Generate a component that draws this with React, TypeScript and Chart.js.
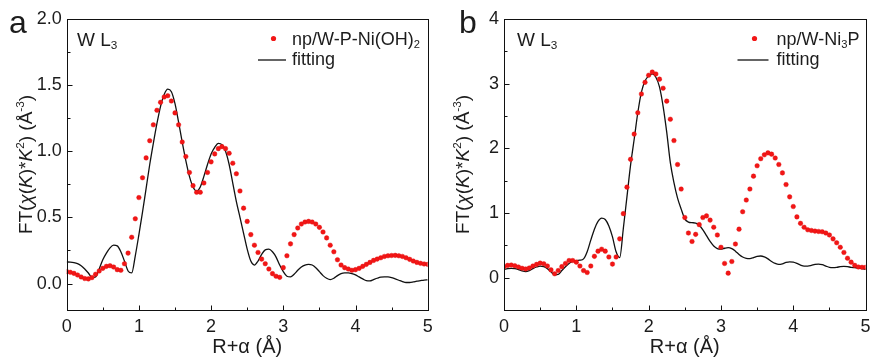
import React, { useEffect, useRef } from 'react';
import { Chart, registerables } from 'chart.js';

Chart.register(...registerables);

const FONT = '"Liberation Sans", Arial, Helvetica, sans-serif';

// R + alpha grid (Å)
const R_GRID = [
  0.0, 0.05, 0.1, 0.15, 0.2, 0.25, 0.3, 0.35, 0.4, 0.45,
  0.5, 0.55, 0.6, 0.65, 0.7, 0.75, 0.8, 0.85, 0.9, 0.95,
  1.0, 1.05, 1.1, 1.15, 1.2, 1.25, 1.3, 1.35, 1.4, 1.45,
  1.5, 1.55, 1.6, 1.65, 1.7, 1.75, 1.8, 1.85, 1.9, 1.95,
  2.0, 2.05, 2.1, 2.15, 2.2, 2.25, 2.3, 2.35, 2.4, 2.45,
  2.5, 2.55, 2.6, 2.65, 2.7, 2.75, 2.8, 2.85, 2.9, 2.95,
  3.0, 3.05, 3.1, 3.15, 3.2, 3.25, 3.3, 3.35, 3.4, 3.45,
  3.5, 3.55, 3.6, 3.65, 3.7, 3.75, 3.8, 3.85, 3.9, 3.95,
  4.0, 4.05, 4.1, 4.15, 4.2, 4.25, 4.3, 4.35, 4.4, 4.45,
  4.5, 4.55, 4.6, 4.65, 4.7, 4.75, 4.8, 4.85, 4.9, 4.95,
  5.0,
];

// Panel a: np/W-P-Ni(OH)2
const A_DATA = [
  0.09, 0.085, 0.077, 0.065, 0.05, 0.038, 0.035, 0.045, 0.07, 0.095,
  0.115, 0.13, 0.135, 0.125, 0.105, 0.1, 0.15, 0.23, 0.35, 0.49,
  0.65, 0.8, 0.95, 1.08, 1.2, 1.31, 1.37, 1.41, 1.42, 1.38,
  1.29, 1.2, 1.07, 0.96, 0.84, 0.74, 0.69, 0.69, 0.76, 0.84,
  0.92, 0.98, 1.02, 1.035, 1.02, 0.985, 0.91, 0.83, 0.7, 0.57,
  0.47, 0.37, 0.29, 0.235, 0.185, 0.15, 0.11, 0.075, 0.055, 0.047,
  0.12, 0.21, 0.3, 0.37, 0.42, 0.45, 0.465, 0.47, 0.465, 0.45,
  0.425, 0.39, 0.345, 0.29, 0.24, 0.18, 0.14, 0.12, 0.11, 0.1,
  0.105, 0.115, 0.13, 0.145, 0.16, 0.175, 0.185, 0.195, 0.205, 0.21,
  0.212, 0.213, 0.21, 0.205, 0.195, 0.183, 0.17, 0.16, 0.153, 0.148,
  0.145,
];
const A_FIT = [
  0.163, 0.162, 0.158, 0.15, 0.135, 0.11, 0.08, 0.045, 0.05, 0.11,
  0.18, 0.23, 0.27, 0.29, 0.285, 0.24, 0.17, 0.095, 0.08, 0.21,
  0.37, 0.54, 0.72, 0.9, 1.06, 1.21, 1.34, 1.43, 1.47, 1.45,
  1.36, 1.22, 1.07, 0.93, 0.81, 0.73, 0.7, 0.73, 0.81, 0.9,
  0.98, 1.03, 1.06, 1.05, 1.0, 0.9, 0.76, 0.62, 0.5, 0.38,
  0.26, 0.17, 0.14, 0.17, 0.22, 0.255, 0.26, 0.24, 0.2, 0.14,
  0.09, 0.055, 0.05, 0.07, 0.1, 0.125, 0.14, 0.145, 0.14, 0.12,
  0.09, 0.06, 0.04, 0.03, 0.04, 0.06, 0.075, 0.08, 0.08, 0.075,
  0.065, 0.05, 0.035, 0.022, 0.02, 0.03, 0.04, 0.048, 0.05, 0.05,
  0.045, 0.035, 0.025, 0.015, 0.008, 0.008, 0.012, 0.018, 0.022, 0.026,
  0.028,
];

// Panel b: np/W-Ni3P
const B_DATA = [
  0.17, 0.19, 0.195, 0.185, 0.165, 0.145, 0.135, 0.15, 0.18, 0.205,
  0.225, 0.215, 0.18, 0.12, 0.06, 0.11, 0.17, 0.22, 0.265, 0.265,
  0.24, 0.18, 0.11, 0.08, 0.18, 0.33, 0.41, 0.44, 0.41, 0.32,
  0.21, 0.32, 0.6, 0.99, 1.4, 1.83, 2.22, 2.55, 2.84, 3.02,
  3.13, 3.18, 3.15, 3.07, 2.93, 2.73, 2.45, 2.12, 1.75, 1.37,
  0.93, 0.69, 0.56, 0.67, 0.82, 0.93, 0.955, 0.89, 0.78, 0.66,
  0.47, 0.22, 0.07, 0.25, 0.52, 0.75, 1.02, 1.2, 1.37, 1.57,
  1.73, 1.84, 1.9, 1.93, 1.91, 1.85, 1.75, 1.62, 1.44, 1.25,
  1.1, 0.94, 0.84, 0.78, 0.74, 0.73, 0.72, 0.715, 0.71, 0.69,
  0.66, 0.6, 0.54, 0.47, 0.39, 0.3, 0.24, 0.19, 0.165, 0.16,
  0.16,
];
const B_FIT = [
  0.13, 0.14, 0.145, 0.14, 0.125, 0.105, 0.095, 0.11, 0.14, 0.165,
  0.18, 0.17, 0.14, 0.09, 0.045, 0.05, 0.11, 0.17, 0.22, 0.25,
  0.265, 0.27, 0.29, 0.4, 0.58, 0.75, 0.87, 0.92, 0.9, 0.8,
  0.63, 0.4, 0.31, 0.76, 1.25, 1.74, 2.14, 2.55, 2.87, 3.04,
  3.12, 3.15, 3.1, 2.95, 2.65, 2.25, 1.78, 1.47, 1.23, 1.06,
  0.91, 0.86, 0.85, 0.845, 0.81, 0.74, 0.65, 0.56, 0.49, 0.45,
  0.44, 0.455, 0.465, 0.45, 0.41, 0.36, 0.32, 0.3, 0.295, 0.31,
  0.33, 0.335, 0.32, 0.29, 0.25, 0.22, 0.205, 0.215, 0.235, 0.245,
  0.24, 0.22, 0.195, 0.18, 0.18, 0.19, 0.205, 0.21, 0.2, 0.18,
  0.16, 0.155, 0.16, 0.17, 0.175, 0.17, 0.16, 0.155, 0.15, 0.14,
  0.13,
];

const X_TICKS = [0, 1, 2, 3, 4, 5];
const X_MINOR = [0.5, 1.5, 2.5, 3.5, 4.5];
const A_Y_TICKS = [0, 0.5, 1, 1.5, 2];
const A_Y_MINOR = [0.25, 0.75, 1.25, 1.75];
const B_Y_TICKS = [0, 1, 2, 3, 4];
const B_Y_MINOR = [0.5, 1.5, 2.5, 3.5];

type Seg = { t: string; s?: 'i' | 'sub' | 'sup' };

const Y_TITLE: Seg[] = [
  { t: 'FT(' }, { t: 'χ', s: 'i' }, { t: '(' }, { t: 'K', s: 'i' }, { t: ')*' },
  { t: 'K', s: 'i' }, { t: '2', s: 'sup' }, { t: ') (Å' }, { t: '-3', s: 'sup' }, { t: ')' },
];
const X_TITLE: Seg[] = [{ t: 'R+α (Å)' }];
const EDGE_LABEL: Seg[] = [{ t: 'W L' }, { t: '3', s: 'sub' }];
const A_LEGEND: Seg[] = [{ t: 'np/W-P-Ni(OH)' }, { t: '2', s: 'sub' }];
const B_LEGEND: Seg[] = [{ t: 'np/W-Ni' }, { t: '3', s: 'sub' }, { t: 'P' }];
const FIT_LEGEND: Seg[] = [{ t: 'fitting' }];

function segFont(seg: Seg, size: number) {
  const sz = seg.s === 'sub' || seg.s === 'sup' ? size * 0.62 : size;
  return `${seg.s === 'i' ? 'italic ' : ''}${sz}px ${FONT}`;
}

function drawRich(ctx: CanvasRenderingContext2D, segs: Seg[], x: number, y: number, size: number, align: 'left' | 'center' = 'left') {
  let total = 0;
  const widths = segs.map((s) => {
    ctx.font = segFont(s, size);
    const w = ctx.measureText(s.t).width;
    total += w;
    return w;
  });
  let cx = align === 'center' ? x - total / 2 : x;
  ctx.textAlign = 'left';
  ctx.textBaseline = 'alphabetic';
  segs.forEach((s, i) => {
    ctx.font = segFont(s, size);
    const dy = s.s === 'sub' ? size * 0.17 : s.s === 'sup' ? -size * 0.4 : 0;
    ctx.fillText(s.t, cx, y + dy);
    cx += widths[i];
  });
}

interface PanelCfg {
  letter: string;
  letterX: number;
  data: number[];
  fit: number[];
  yMin: number;
  yMax: number;
  yTicks: number[];
  yMinor: number[];
  yDecimals: number;
  yWidth: number;
  padRight: number;
  legend: Seg[];
  dotX: number;
  textX: number;
  lineX1: number;
  lineX2: number;
  edgeX: number;
  yTitleX: number;
}

const PANEL_A: PanelCfg = {
  letter: 'a', letterX: 9, data: A_DATA, fit: A_FIT, yMin: -0.2, yMax: 2,
  yTicks: A_Y_TICKS, yMinor: A_Y_MINOR, yDecimals: 1, yWidth: 66.7, padRight: 7.3,
  legend: A_LEGEND, dotX: 273.5, textX: 292, lineX1: 258, lineX2: 286, edgeX: 77, yTitleX: 32,
};
const PANEL_B: PanelCfg = {
  letter: 'b', letterX: 24, data: B_DATA, fit: B_FIT, yMin: -0.5, yMax: 4,
  yTicks: B_Y_TICKS, yMinor: B_Y_MINOR, yDecimals: 0, yWidth: 69, padRight: 4,
  legend: B_LEGEND, dotX: 319.5, textX: 341.5, lineX1: 302.5, lineX2: 333.5, edgeX: 82, yTitleX: 34,
};

const TEXT = '#1c1c1c';
const RED = 'rgb(242,22,22)';

function makeDecor(cfg: PanelCfg) {
  return {
    id: 'decor',
    afterDraw(chart: any) {
      const ctx: CanvasRenderingContext2D = chart.ctx;
      const ca = chart.chartArea;
      const xs = chart.scales.x;
      const ys = chart.scales.y;
      ctx.save();
      // frame
      ctx.strokeStyle = '#111';
      ctx.lineWidth = 1;
      ctx.strokeRect(Math.round(ca.left) + 0.5, Math.round(ca.top) + 0.5, Math.round(ca.right - ca.left), Math.round(ca.bottom - ca.top));
      // inward ticks
      ctx.beginPath();
      const bottom = Math.round(ca.bottom) + 0.5;
      const left = Math.round(ca.left) + 0.5;
      X_TICKS.forEach((v) => {
        const px = Math.round(xs.getPixelForValue(v)) + 0.5;
        ctx.moveTo(px, bottom);
        ctx.lineTo(px, bottom - 5);
      });
      X_MINOR.forEach((v) => {
        const px = Math.round(xs.getPixelForValue(v)) + 0.5;
        ctx.moveTo(px, bottom);
        ctx.lineTo(px, bottom - 3);
      });
      cfg.yTicks.forEach((v) => {
        const py = Math.round(ys.getPixelForValue(v)) + 0.5;
        ctx.moveTo(left, py);
        ctx.lineTo(left + 5, py);
      });
      cfg.yMinor.forEach((v) => {
        const py = Math.round(ys.getPixelForValue(v)) + 0.5;
        ctx.moveTo(left, py);
        ctx.lineTo(left + 3, py);
      });
      ctx.stroke();

      ctx.fillStyle = TEXT;
      // panel letter
      drawRich(ctx, [{ t: cfg.letter }], cfg.letterX, 33, 32);
      // edge label
      drawRich(ctx, EDGE_LABEL, cfg.edgeX, 46, 19);
      // legend
      ctx.fillStyle = RED;
      ctx.beginPath();
      ctx.arc(cfg.dotX, 38.5, 2.6, 0, Math.PI * 2);
      ctx.fill();
      ctx.strokeStyle = '#111';
      ctx.lineWidth = 1.3;
      ctx.beginPath();
      ctx.moveTo(cfg.lineX1, 60);
      ctx.lineTo(cfg.lineX2, 60);
      ctx.stroke();
      ctx.fillStyle = TEXT;
      drawRich(ctx, cfg.legend, cfg.textX, 45, 18);
      drawRich(ctx, FIT_LEGEND, cfg.textX, 65, 18);
      // x title
      drawRich(ctx, X_TITLE, (ca.left + ca.right) / 2, 353, 20, 'center');
      // y title
      ctx.save();
      ctx.translate(cfg.yTitleX, (ca.top + ca.bottom) / 2);
      ctx.rotate(-Math.PI / 2);
      drawRich(ctx, Y_TITLE, 0, 0, 19, 'center');
      ctx.restore();
      ctx.restore();
    },
  };
}

function Panel({ cfg, left }: { cfg: PanelCfg; left: number }) {
  const ref = useRef<HTMLCanvasElement | null>(null);
  useEffect(() => {
    if (!ref.current) return;
    const chart = new Chart(ref.current, {
      type: 'line',
      data: {
        datasets: [
          {
            label: 'data',
            data: R_GRID.map((r, i) => ({ x: r, y: cfg.data[i] })),
            showLine: false,
            pointRadius: 2.3,
            pointBackgroundColor: RED,
            pointBorderColor: 'rgb(225,10,10)',
            pointBorderWidth: 0.4,
          },
          {
            label: 'fitting',
            data: R_GRID.map((r, i) => ({ x: r, y: cfg.fit[i] })),
            borderColor: '#111',
            borderWidth: 1.3,
            pointRadius: 0,
            cubicInterpolationMode: 'monotone',
            fill: false,
          },
        ],
      } as any,
      options: {
        responsive: false,
        animation: false,
        events: [],
        layout: { padding: { left: 0, right: cfg.padRight, top: 19, bottom: 0 } },
        plugins: { legend: { display: false }, tooltip: { enabled: false } },
        scales: {
          x: {
            type: 'linear',
            min: 0,
            max: 5,
            grid: { display: false, drawTicks: false },
            border: { display: false },
            afterBuildTicks: (s: any) => { s.ticks = X_TICKS.map((v) => ({ value: v })); },
            afterFit: (s: any) => { s.height = 51; s.paddingLeft = 0; s.paddingRight = 0; },
            ticks: {
              autoSkip: false,
              maxRotation: 0,
              padding: 6,
              color: TEXT,
              font: { family: FONT, size: 18 },
              callback: (v: any) => String(v),
            },
          },
          y: {
            type: 'linear',
            min: cfg.yMin,
            max: cfg.yMax,
            grid: { display: false, drawTicks: false },
            border: { display: false },
            afterBuildTicks: (s: any) => { s.ticks = cfg.yTicks.map((v) => ({ value: v })); },
            afterFit: (s: any) => { s.width = cfg.yWidth; s.paddingTop = 0; s.paddingBottom = 0; },
            ticks: {
              autoSkip: false,
              padding: 5,
              color: TEXT,
              font: { family: FONT, size: 18 },
              callback: (v: any) => Number(v).toFixed(cfg.yDecimals),
            },
          },
        },
      } as any,
      plugins: [makeDecor(cfg)],
    });
    return () => chart.destroy();
  }, [cfg]);
  return (
    <canvas
      ref={ref}
      width={435}
      height={361}
      style={{ position: 'absolute', left, top: 0, width: 435, height: 361 }}
    />
  );
}

export default function App() {
  return (
    <div style={{ position: 'absolute', left: 0, top: 0, width: 870, height: 361, background: '#fff' }}>
      <Panel cfg={PANEL_A} left={0} />
      <Panel cfg={PANEL_B} left={435} />
    </div>
  );
}
